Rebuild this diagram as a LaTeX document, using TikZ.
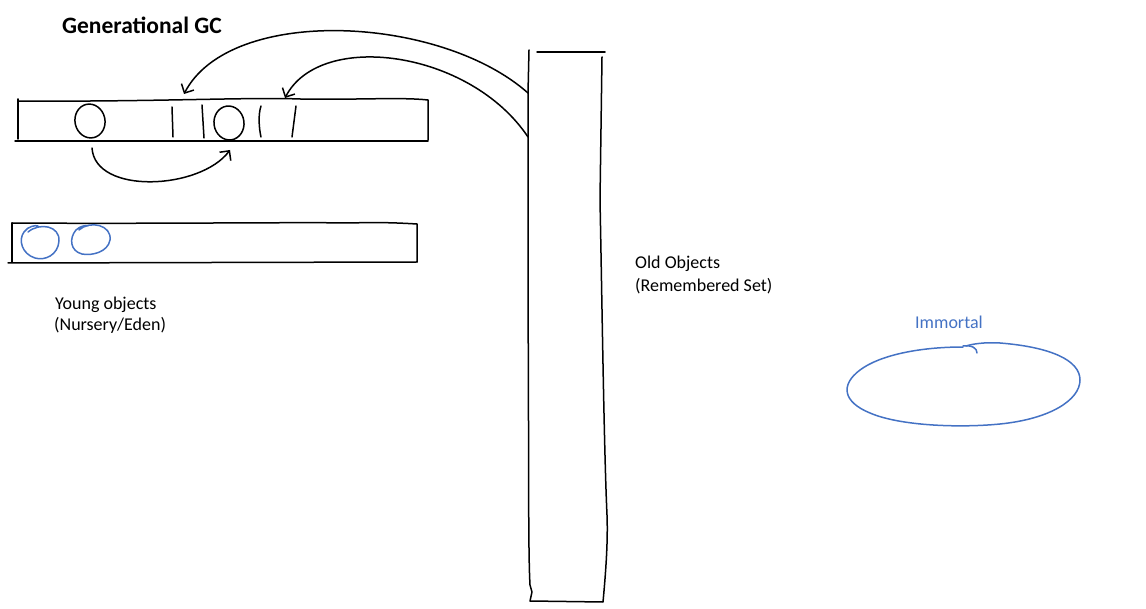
\documentclass[tikz,border=0pt]{standalone}
\usepackage{fontspec}
\setmainfont{Carlito}
\usetikzlibrary{arrows.meta}
\definecolor{ink}{RGB}{68,114,196}
\begin{document}
\begin{tikzpicture}[x=1pt,y=-1pt,
  pen/.style={line width=1.5pt, line cap=round, line join=round},
  bluepen/.style={pen, draw=ink},
  lbl/.style={font=\fontsize{18}{22}\selectfont, anchor=base west, inner sep=0pt},
  arr/.style={pen, -{Straight Barb[length=7pt,width=14pt,line width=1.5pt]}}]
\useasboundingbox (0,0) rectangle (1146,609);
% title
\node[lbl, font=\bfseries\fontsize{23.5}{28}\selectfont] (title) at (62,34) {Generational GC};
% top bar
\draw[pen] (18,99) -- (18,139);
\draw[pen] (18,101) .. controls (150,102) and (250,97) .. (300,99) .. controls (360,100) and (400,97) .. (428,100) -- (428,140);
\draw[pen] (15,141) -- (428,141);
% objects in top bar
\draw[pen, rotate around={12:(90,121)}] (90,121) ellipse [x radius=15, y radius=17];
\draw[pen, rotate around={8:(229,123)}] (229,123) ellipse [x radius=15, y radius=17];
\draw[pen] (172,107) -- (173,137);
\draw[pen] (202,105) -- (204,138);
\draw[pen] (261,106) .. controls (258,115) and (259,128) .. (261,137);
\draw[pen] (296,106) -- (292,137);
% second bar
\draw[pen] (12,223) -- (12,262);
\draw[pen] (12,223) .. controls (150,224) and (300,222) .. (350,223) .. controls (380,222) and (400,223) .. (417,224) -- (417,262);
\draw[pen] (8,263) -- (417,262);
% blue circles
\draw[bluepen] (28,232) .. controls (40,222) and (60,226) .. (59,241) .. controls (58,255) and (45,261) .. (35,258) .. controls (22,254) and (18,240) .. (24,232) .. controls (28,226) and (36,225) .. (38,226);
\draw[bluepen] (79,230) .. controls (90,220) and (112,225) .. (110,240) .. controls (108,252) and (92,256) .. (82,254) .. controls (70,251) and (69,238) .. (76,230) .. controls (80,226) and (86,225) .. (88,226);
% labels
\node[lbl] (young1) at (55,310) {Young objects};
\node[lbl] (young2) at (54,331) {(Nursery/Eden)};
% old region
\coordinate (oa) at (528,93);
\coordinate (ob) at (528,137);
\draw[pen] (529,50) -- (528,93) -- (528,300) .. controls (529,450) and (528,550) .. (530,585) -- (532,592) -- (530,601) -- (603,602) .. controls (606,570) and (608,540) .. (607,515) .. controls (604,450) and (602,300) .. (600,200) -- (602,57);
\draw[pen] (537,52) -- (605,52);
\node[lbl] (old1) at (635,269) {Old Objects};
\node[lbl] (old2) at (635,292) {(Remembered Set)};
% arrows
\coordinate (ta) at (184,94);
\coordinate (tb) at (285,98);
\coordinate (sa) at (92,148);
\coordinate (tc) at (230,150);
\draw[arr] (oa) .. controls (440,15) and (230,5) .. (ta);
\draw[arr] (ob) .. controls (470,50) and (320,30) .. (tb);
\draw[arr] (sa) .. controls (95,195) and (200,190) .. (tc);
% immortal
\node[lbl, text=ink] (imm) at (915,329) {Immortal};
\draw[bluepen] (963,347) .. controls (920,347) and (880,355) .. (860,370) .. controls (840,385) and (843,402) .. (870,413) .. controls (900,426) and (960,428) .. (1000,424) .. controls (1050,419) and (1080,400) .. (1080,380) .. controls (1080,360) and (1050,347) .. (1000,343) .. controls (985,342) and (972,344) .. (966,346);
\draw[bluepen] (963,346) .. controls (972,345) and (977,348) .. (977,353);
\end{tikzpicture}
\end{document}
